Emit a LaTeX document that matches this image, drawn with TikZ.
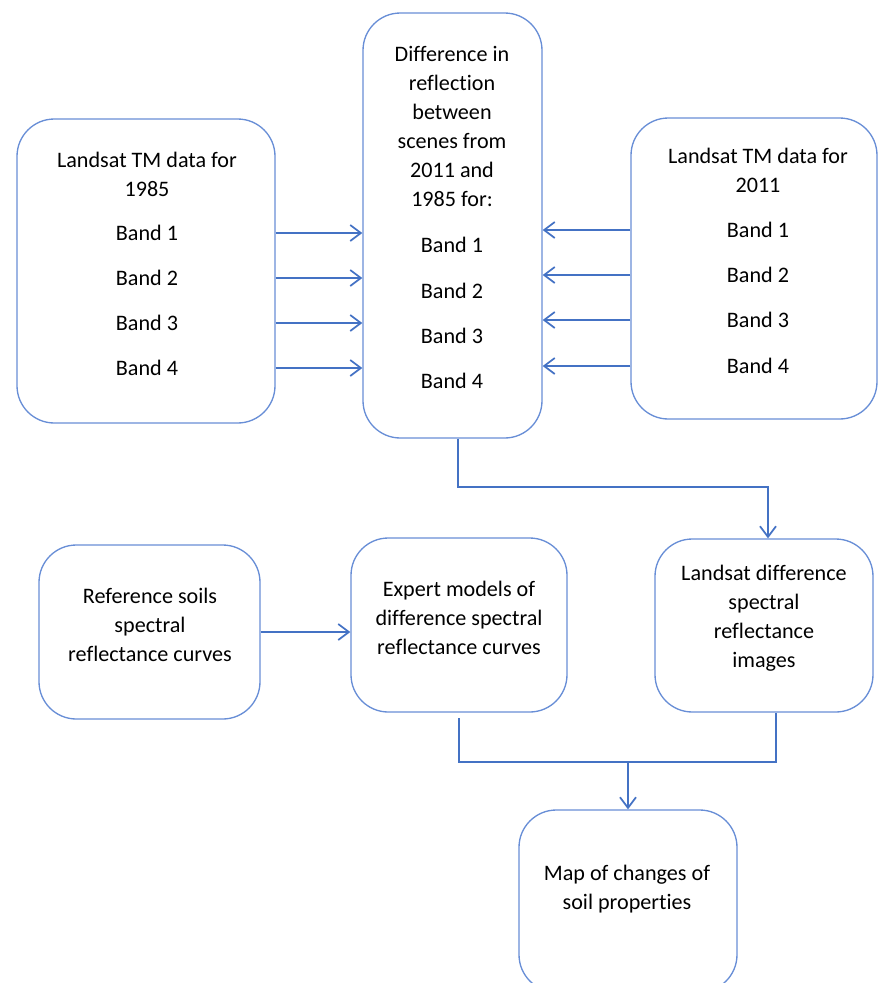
\documentclass[tikz,border=0pt]{standalone}
\usepackage{fontspec}
\setmainfont{Carlito}[Ligatures=NoCommon]
\usetikzlibrary{arrows.meta, calc}
\definecolor{boxblue}{RGB}{104,142,214}
\definecolor{lineblue}{RGB}{68,114,196}
\tikzset{
x=0.75pt, y=-0.75pt, % one unit is one pixel of the sketch, y runs down
every node/.style={font=\fontsize{16.6}{21.75}\selectfont, align=center}, % text of all boxes
box/.style={draw=boxblue, line width=1pt, rounded corners=28pt, inner sep=0pt}, % the rounded boxes
boxdim/.style 2 args={minimum width=#1*0.75pt, minimum height=#2*0.75pt}, % box size in pixels
link/.style={draw=lineblue, line width=1.3pt, -{Straight Barb[length=8pt,width=12pt]}}, % arrows
wire/.style={draw=lineblue, line width=1.3pt}, % lines with no tip
}

\begin{document}
\begin{tikzpicture}
      \useasboundingbox (0,0) rectangle (878,983);
      % boxes
      \node[box, boxdim={258}{304}] (l85) at (146,271) {};
      \node[box, boxdim={179}{425}] (diff) at (452.5,225.5) {};
      \node[box, boxdim={246}{301}] (l11) at (754,268.5) {};
      \node[box, boxdim={221}{174}] (ref) at (149.5,632) {};
      \node[box, boxdim={216}{174}] (expert) at (459,625) {};
      \node[box, boxdim={218}{173}] (ldiff) at (764,625.5) {};
      \node[box, boxdim={218}{182}] (map) at (628,901) {};
      % texts
      \node (l85t) at (147,174) {Landsat TM data for\\1985};
      \node (difft) at (452,126.5) {Difference in\\reflection\\between\\scenes from\\2011 and\\1985 for:};
      \node (l11t) at (758,170.5) {Landsat TM data for\\2011};
      \foreach \i/\y in {1/233,2/278,3/323,4/368}
        \node (l85b\i) at (147,\y) {Band \i};
      \foreach \i/\y in {1/245,2/291,3/336,4/381}
        \node (diffb\i) at (452,\y) {Band \i};
      \foreach \i/\y in {1/230,2/275,3/320,4/366}
        \node (l11b\i) at (758,\y) {Band \i};
      \node (reft) at (150,625) {Reference soils\\spectral\\reflectance curves};
      \node (expertt) at (459,617.5) {Expert models of\\difference spectral\\reflectance curves};
      \node (ldifft) at (764,618) {Landsat difference\\spectral\\reflectance\\images};
      \node (mapt) at (627,889.5) {Map of changes of\\soil properties};
      % connectors
      \foreach \i in {1,...,4}
        \draw[link] (l85.east |- l85b\i) -- (diff.west |- l85b\i);
      \foreach \i in {1,...,4}
        \draw[link] (l11.west |- l11b\i) -- (diff.east |- l11b\i);
      \draw[link] ([xshift=4pt]diff.south) -- ++(0,48) -| ([xshift=3pt]ldiff.north);
      \draw[link] (ref.east) -- (ref.east -| expert.west);
      \coordinate (merge) at (628,762);
      \draw[wire, shorten <=4pt] (expert.south) |- (merge) -| ([xshift=9pt]ldiff.south);
      \draw[link] (merge) -- (map.north);
\end{tikzpicture}
\end{document}
